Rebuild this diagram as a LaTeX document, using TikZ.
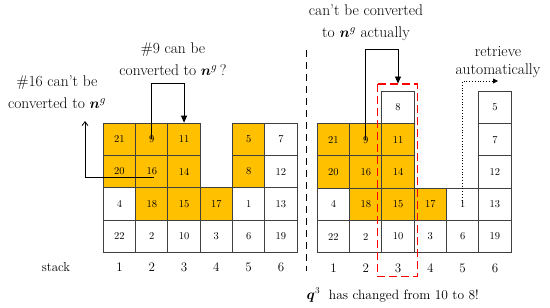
\documentclass[tikz,border=0pt]{standalone}
\usepackage{amsmath,amssymb,bm}
\usetikzlibrary{arrows.meta}
\definecolor{cellyellow}{HTML}{FFC000}
\definecolor{gridgray}{HTML}{404040}
\newcommand{\nG}{$\bm{n}^{g}$}
\begin{document}
\begin{tikzpicture}[x=1pt,y=-1pt,
  cellbox/.style={draw=gridgray,line width=0.9pt,minimum width=32.3pt,minimum height=32.3pt,inner sep=0pt,font=\fontsize{10.5}{12}\selectfont},
  yel/.style={cellbox,fill=cellyellow},
  wht/.style={cellbox,fill=white},
  lbl/.style={font=\fontsize{15.5}{22}\selectfont,align=center,inner sep=0pt},
  numlbl/.style={font=\fontsize{13}{15}\selectfont,inner sep=0pt},
  conn/.style={line width=0.8pt,black}]
\useasboundingbox (0,0) rectangle (550,308);
% ---------- left grid ----------
\def\LX{103.3}\def\LB{252.3}\def\W{32.3}
\foreach \c/\r/\t/\s in {1/1/22/wht,1/2/4/wht,1/3/20/yel,1/4/21/yel,
  2/1/2/wht,2/2/18/yel,2/3/16/yel,2/4/9/yel,
  3/1/10/wht,3/2/15/yel,3/3/14/yel,3/4/11/yel,
  4/1/3/wht,4/2/17/yel,
  5/1/6/wht,5/2/1/wht,5/3/8/yel,5/4/5/yel,
  6/1/19/wht,6/2/13/wht,6/3/12/wht,6/4/7/wht}
  \node[\s] (L\t) at ({\LX+(\c-0.5)*\W},{\LB-(\r-0.5)*\W}) {\t};
% ---------- right grid ----------
\def\RX{317.3}\def\RB{252.7}
\foreach \c/\r/\t/\s in {1/1/22/wht,1/2/4/wht,1/3/20/yel,1/4/21/yel,
  2/1/2/wht,2/2/18/yel,2/3/16/yel,2/4/9/yel,
  3/1/10/wht,3/2/15/yel,3/3/14/yel,3/4/11/yel,3/5/8/wht,
  4/1/3/wht,4/2/17/yel,
  5/1/6/wht,5/2/1/wht,
  6/1/19/wht,6/2/13/wht,6/3/12/wht,6/4/7/wht,6/5/5/wht}
  \node[\s] (R\t) at ({\RX+(\c-0.5)*\W},{\RB-(\r-0.5)*\W}) {\t};
% ---------- stack labels ----------
\node[numlbl] (stk) at (56,267) {stack};
\foreach \c in {1,...,6}{
  \node[numlbl] (LS\c) at ({\LX+(\c-0.5)*\W},267) {\c};
  \node[numlbl] (RS\c) at ({\RX+(\c-0.5)*\W},268.5) {\c};
}
% ---------- texts ----------
\node[lbl] (t16) at (57,92) {\#16 can't be\\converted to \nG};
\node[lbl] (t9) at (173,59) {\#9 can be\\converted to \nG\,?};
\node[lbl] (tact) at (366,22.5) {can't be converted\\to \nG\ actually};
\node[lbl,font=\fontsize{15.5}{18}\selectfont] (tret) at (498,62) {retrieve\\automatically};
\node[lbl,font=\fontsize{13.5}{16}\selectfont,anchor=west] (cap) at (306.5,295) {$\bm{q}^{3}$\ \ has changed from 10 to 8!};
% ---------- connectors ----------
\coordinate (a16) at (85,121);
\draw[conn,-{Straight Barb[length=4pt,width=6pt]}] ([shift={(2,6)}]L16.center) -| (a16);
\coordinate (h9) at (0,83.3);
\draw[conn,-{Triangle[length=7pt,width=6pt]}] (L9.center) |- (L11.north |- h9) -- (L11.north);
\coordinate (aact) at (398,83.5);
\coordinate (hact) at (0,49);
\draw[conn,-{Triangle[length=7pt,width=6pt]}] (R9.center) |- (aact |- hact) -- (aact);
\coordinate (aret) at (498,81);
\draw[line width=0.8pt,dotted,-{Triangle[length=5pt,width=5pt]}] ([yshift=1]R1.center) |- (aret);
% ---------- separators ----------
\coordinate (sepT) at (306,50);
\coordinate (sepB) at (306,271);
\draw[line width=0.9pt,dash pattern=on 7pt off 5pt] (sepT) -- (sepB);
\draw[red,line width=1.5pt,dash pattern=on 8pt off 4pt] (377.7,84) rectangle (417.3,276.7);
\end{tikzpicture}
\end{document}
